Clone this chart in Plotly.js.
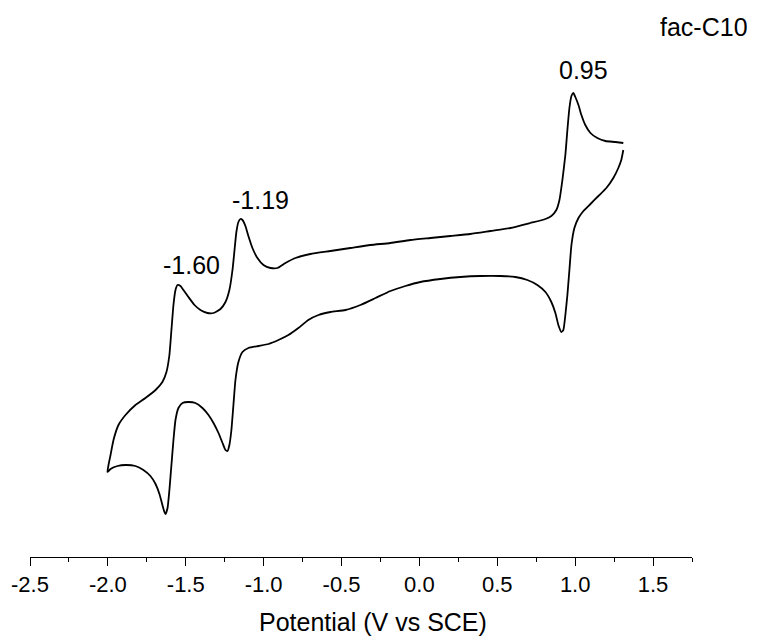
<!DOCTYPE html>
<html>
<head>
<meta charset="utf-8">
<script src="https://cdn.plot.ly/plotly-3.0.1.min.js"></script>
<style>html,body{margin:0;padding:0;background:#fff;}#chart{width:766px;height:641px;}</style>
</head>
<body>
<div id="chart"></div>
<script>
// Potential (V vs SCE), upper branch from +1.30 V back to -2.00 V
var upperPotential = [1.309,1.258,1.194,1.142,1.098,1.065,1.040,1.021,1.001,0.988,0.976,0.963,0.950,0.937,0.918,0.899,0.879,0.847,0.809,0.712,0.584,0.456,0.327,0.199,0.071,-0.058,-0.186,-0.315,-0.443,-0.571,-0.700,-0.796,-0.860,-0.911,-0.956,-1.001,-1.040,-1.072,-1.098,-1.117,-1.136,-1.149,-1.162,-1.175,-1.187,-1.200,-1.220,-1.245,-1.277,-1.322,-1.361,-1.406,-1.444,-1.483,-1.515,-1.534,-1.553,-1.566,-1.579,-1.592,-1.605,-1.624,-1.650,-1.694,-1.759,-1.823,-1.887,-1.932,-1.964,-1.983,-1.996,-2.003];
var upperCurrent = [41.4,41.5,41.6,41.9,42.4,43.2,44.2,45.2,46.0,46.4,46.1,44.9,42.7,40.2,37.7,35.7,34.7,34.1,33.8,33.4,32.9,32.6,32.3,32.1,31.9,31.7,31.4,31.2,30.9,30.6,30.3,29.9,29.4,28.9,28.9,29.2,29.9,30.9,32.1,33.1,33.7,33.8,33.5,32.5,30.7,28.7,26.7,25.5,24.8,24.4,24.4,24.7,25.2,26.0,26.7,27.1,27.2,26.7,25.2,22.7,20.2,18.5,17.5,16.7,15.9,15.2,14.2,13.2,11.7,10.2,9.2,8.5];
// lower branch from -2.00 V up to +1.30 V
var lowerPotential = [-2.003,-1.983,-1.938,-1.887,-1.823,-1.772,-1.727,-1.694,-1.669,-1.650,-1.637,-1.630,-1.617,-1.605,-1.592,-1.579,-1.566,-1.547,-1.521,-1.483,-1.438,-1.393,-1.354,-1.322,-1.290,-1.264,-1.245,-1.232,-1.220,-1.207,-1.194,-1.181,-1.162,-1.136,-1.098,-1.033,-0.969,-0.905,-0.841,-0.777,-0.713,-0.648,-0.571,-0.475,-0.379,-0.282,-0.186,-0.090,0.006,0.135,0.263,0.392,0.520,0.616,0.693,0.757,0.809,0.847,0.873,0.892,0.911,0.924,0.937,0.950,0.963,0.976,0.995,1.021,1.053,1.098,1.149,1.200,1.245,1.277,1.296,1.309];
var lowerCurrent = [8.5,8.8,9.1,9.2,9.1,8.7,8.1,7.3,6.3,5.2,4.5,4.3,4.9,6.7,9.2,11.7,13.7,14.9,15.4,15.5,15.4,14.9,14.2,13.4,12.4,11.4,10.7,10.6,11.2,12.7,15.2,17.7,19.5,20.5,20.9,21.1,21.3,21.7,22.2,22.9,23.7,24.2,24.5,24.7,25.2,25.9,26.6,27.1,27.5,27.8,28.0,28.1,28.1,28.0,27.7,27.2,26.5,25.5,24.4,23.2,22.5,22.7,24.2,26.2,28.7,31.2,32.9,33.9,34.6,35.3,36.1,36.9,37.9,38.9,39.7,40.7];

var peakLabels = ["-1.60", "-1.19", "0.95"];
var peakLabelX = [-1.463, -1.02, 1.053];
var peakLabelY = [29.2, 35.7, 48.7];
var sampleName = "fac-C10";
var xTitle = "Potential (V vs SCE)";
var xTickVals = [-2.5,-2.0,-1.5,-1.0,-0.5,0.0,0.5,1.0,1.5];
var xTickText = ["-2.5","-2.0","-1.5","-1.0","-0.5","0.0","0.5","1.0","1.5"];

var xs = upperPotential.concat(lowerPotential.slice(1));
var ys = upperCurrent.concat(lowerCurrent.slice(1));

var trace = {
  x: xs, y: ys, type: 'scatter', mode: 'lines',
  line: {color: '#000000', width: 1.8, shape: 'spline', smoothing: 0.5},
  hoverinfo: 'skip', showlegend: false
};

var font = "Liberation Sans, Arial, sans-serif";
var annotations = peakLabels.map(function(t, i){
  return {x: peakLabelX[i], y: peakLabelY[i], xref: 'x', yref: 'y', text: t,
    showarrow: false, xanchor: 'center', yanchor: 'middle',
    font: {family: font, size: 25, color: '#000'}};
});
annotations.push({x: 1.018, y: 0.987, xref: 'paper', yref: 'paper', text: sampleName,
  showarrow: false, xanchor: 'center', yanchor: 'middle',
  font: {family: font, size: 25, color: '#000'}});
annotations.push({x: -0.30, y: -0.121, xref: 'x', yref: 'paper', text: xTitle,
  showarrow: false, xanchor: 'center', yanchor: 'middle',
  font: {family: font, size: 25, color: '#000'}});

var layout = {
  width: 766, height: 641,
  margin: {l: 30, r: 74, t: 20, b: 84},
  paper_bgcolor: '#fff', plot_bgcolor: '#fff',
  font: {family: font, color: '#000'},
  xaxis: {
    range: [-2.5, 1.75], showgrid: false, zeroline: false,
    showline: true, linecolor: '#000', linewidth: 1,
    ticks: 'outside', ticklen: 8, tickwidth: 1, tickcolor: '#000',
    tickvals: xTickVals, ticktext: xTickText,
    tickfont: {family: font, size: 22, color: '#000'},
    minor: {dtick: 0.25, tick0: 0, ticks: 'outside', ticklen: 4, tickwidth: 1, tickcolor: '#000'}
  },
  yaxis: {visible: false, range: [0, 53.7], showgrid: false, zeroline: false},
  annotations: annotations
};

Plotly.newPlot('chart', [trace], layout, {displayModeBar: false, staticPlot: true});
</script>
</body>
</html>
